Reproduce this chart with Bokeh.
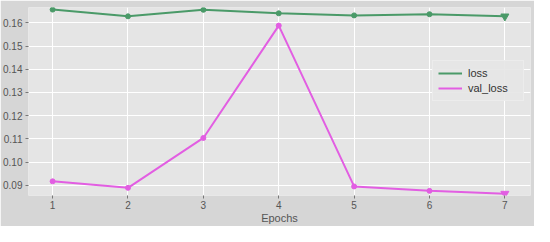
from bokeh.plotting import figure
from bokeh.models import FixedTicker, NumeralTickFormatter, Range1d, Legend, LegendItem
from bokeh.embed import file_html
from bokeh.resources import INLINE

epochs = [1, 2, 3, 4, 5, 6, 7]
loss = [0.1657, 0.1628, 0.1656, 0.1641, 0.1632, 0.1637, 0.1628]
val_loss = [0.0917, 0.0889, 0.1104, 0.1588, 0.0895, 0.0876, 0.0864]
y_ticks = [0.09, 0.10, 0.11, 0.12, 0.13, 0.14, 0.15, 0.16]

GREEN = "#4a9a68"
MAGENTA = "#e25ee2"
Y0, Y1 = 0.0856, 0.1666
W, H = 534, 226
BL, BT, BR, BB = 27, 7, 4, 27

p = figure(width=W, height=H, output_backend="svg", toolbar_location=None,
           x_range=Range1d(0.68, 7.34), y_range=Range1d(Y0, Y1))
p.min_border_left = BL
p.min_border_top = BT
p.min_border_right = BR
p.min_border_bottom = BB
p.background_fill_color = "#e5e5e5"
p.border_fill_color = "#d6d6d6"
p.outline_line_color = None

l1 = p.line(epochs, loss, line_color=GREEN, line_width=2)
p.scatter(epochs[:-1], loss[:-1], marker="circle", size=5, color=GREEN)
p.scatter(epochs[-1:], loss[-1:], marker="inverted_triangle", size=8, color=GREEN)
l2 = p.line(epochs, val_loss, line_color=MAGENTA, line_width=2)
p.scatter(epochs[:-1], val_loss[:-1], marker="circle", size=5, color=MAGENTA)
p.scatter(epochs[-1:], val_loss[-1:], marker="inverted_triangle", size=8, color=MAGENTA)

p.xaxis.ticker = FixedTicker(ticks=epochs)
p.yaxis.ticker = FixedTicker(ticks=y_ticks)
p.yaxis.formatter = NumeralTickFormatter(format="0.00")
for ax in (p.xaxis[0], p.yaxis[0]):
    ax.axis_line_color = None
    ax.major_tick_line_color = "#777777"
    ax.major_tick_in = 0
    ax.major_tick_out = 3
    ax.minor_tick_line_color = None
    ax.major_label_text_color = "#555555"
    ax.major_label_text_font = "Liberation Sans"
    ax.major_label_text_font_size = "10px"
    ax.major_label_standoff = 3
p.xaxis.major_label_standoff = 2
p.xaxis.axis_label = "Epochs"
p.xaxis.axis_label_text_font = "Liberation Sans"
p.xaxis.axis_label_text_font_size = "11px"
p.xaxis.axis_label_text_font_style = "normal"
p.xaxis.axis_label_text_color = "#555555"
p.xaxis.axis_label_standoff = 0

p.xgrid.grid_line_color = "white"
p.ygrid.grid_line_color = "white"
p.xgrid.grid_line_width = 1
p.ygrid.grid_line_width = 1

legend = Legend(items=[LegendItem(label="loss", renderers=[l1]),
                       LegendItem(label="val_loss", renderers=[l2])],
                location=(404, 94))
legend.background_fill_color = "#e5e5e5"
legend.background_fill_alpha = 0.9
legend.border_line_color = "#f2f2f2"
legend.label_text_font = "Liberation Sans"
legend.label_text_font_size = "11px"
legend.label_text_color = "#333333"
legend.glyph_width = 24
legend.glyph_height = 14
legend.label_height = 14
legend.label_standoff = 6
legend.spacing = 1
legend.padding = 5
legend.margin = 0
legend.label_width = 50
p.add_layout(legend, "center")

open("out.html", "w").write(file_html(p, INLINE))
